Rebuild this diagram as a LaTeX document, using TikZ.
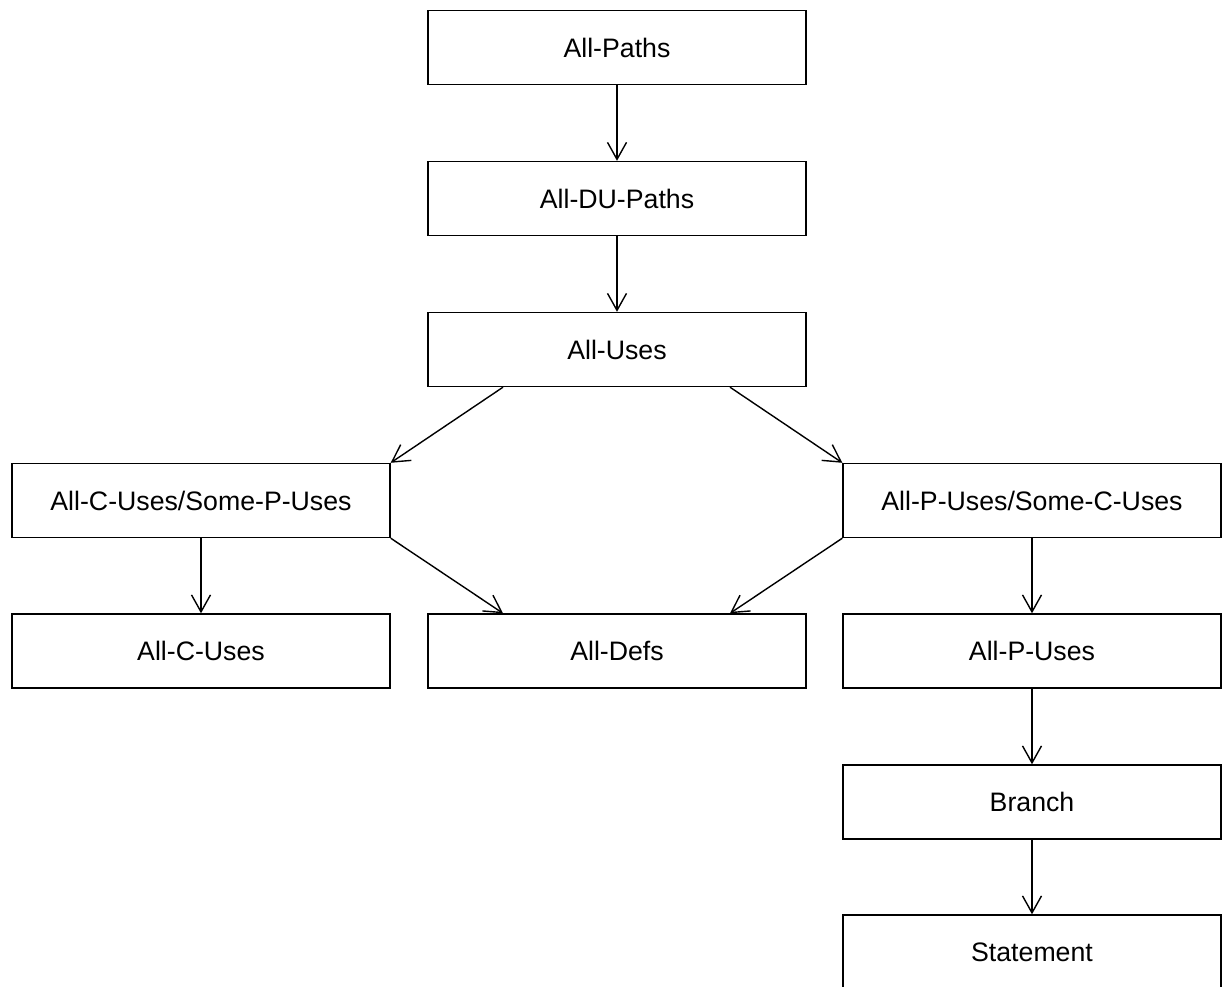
\documentclass[tikz,border=0pt]{standalone}
\usepackage{fontspec}
\setmainfont{Liberation Sans}
\usetikzlibrary{arrows.meta}
\tikzset{
  box/.style={draw=black, line width=1.4pt, rectangle, minimum width=378pt, minimum height=74pt, inner sep=0pt, font=\fontsize{26.7}{30}\selectfont, fill=white},
  conn/.style={draw=black, line width=1.4pt, -{Straight Barb[length=17pt,width=19pt,line width=1.4pt]}}
}
\begin{document}
\begin{tikzpicture}[x=1pt,y=-1pt]
\useasboundingbox (0,0) rectangle (1224,987);
\clip (0,0) rectangle (1224,987);
\fill[white] (0,0) rectangle (1224,987);
\node[box] (ap) at (617,47.5) {All-Paths};
\node[box] (adu) at (617,198.5) {All-DU-Paths};
\node[box] (au) at (617,349.5) {All-Uses};
\node[box] (cs) at (201,500.5) {All-C-Uses/Some-P-Uses};
\node[box] (ps) at (1032,500.5) {All-P-Uses/Some-C-Uses};
\node[box] (ac) at (201,651) {All-C-Uses};
\node[box] (ad) at (617,651) {All-Defs};
\node[box] (app) at (1032,651) {All-P-Uses};
\node[box] (br) at (1032,802) {Branch};
\node[box] (st) at (1032,952) {Statement};
\draw[conn] (ap) -- (adu);
\draw[conn] (adu) -- (au);
\draw[conn] ([xshift=-114pt]au.south) -- (cs.north east);
\draw[conn] ([xshift=113pt]au.south) -- (ps.north west);
\draw[conn] (cs) -- (ac);
\draw[conn] (cs.south east) -- ([xshift=-114pt]ad.north);
\draw[conn] (ps.south west) -- ([xshift=113pt]ad.north);
\draw[conn] (ps) -- (app);
\draw[conn] (app) -- (br);
\draw[conn] (br) -- (st);
\end{tikzpicture}
\end{document}
